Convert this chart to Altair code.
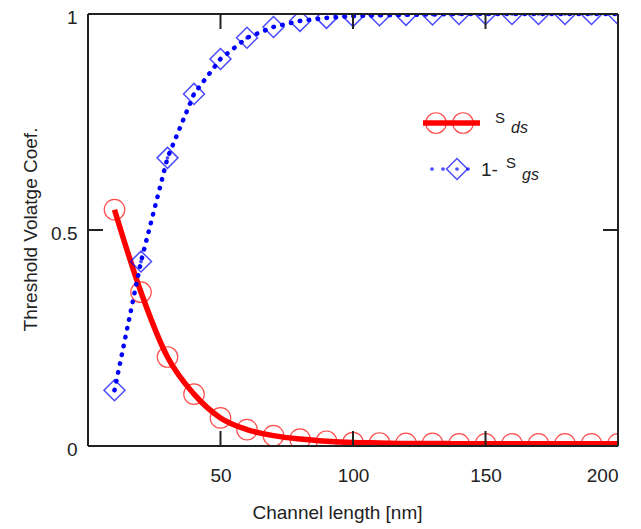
import altair as alt
import pandas as pd

# ---- data ----
channel_length = [10, 20, 30, 40, 50, 60, 70, 80, 90, 100,
                  110, 120, 130, 140, 150, 160, 170, 180, 190, 200]
s_ds = [0.547, 0.356, 0.206, 0.120, 0.065, 0.038, 0.024, 0.016, 0.011, 0.008,
        0.007, 0.006, 0.006, 0.005, 0.005, 0.005, 0.005, 0.005, 0.005, 0.005]
one_minus_s_gs = [0.129, 0.427, 0.667, 0.815, 0.896, 0.945, 0.970, 0.984, 0.991, 0.995,
                  0.997, 0.998, 0.999, 1.0, 1.0, 1.0, 1.0, 1.0, 1.0, 1.0]

x_ticks = [50, 100, 150, 200]
y_ticks = [0, 0.5, 1]

W, H = 530, 432
FONT = "Liberation Sans"
INK = "#222222"

df = pd.DataFrame({"L": channel_length, "sds": s_ds, "sgs": one_minus_s_gs})

xs = alt.Scale(domain=[0, 200], nice=False)
ys = alt.Scale(domain=[0, 1], nice=False)

x_enc = alt.X("L:Q", scale=xs, title="Channel length [nm]",
              axis=alt.Axis(values=x_ticks, format="d", ticks=False, domain=False, grid=False,
                            labelPadding=20, labelFontSize=19, labelFont=FONT,
                            labelColor=INK, titleFont=FONT, titleFontSize=19,
                            titleFontWeight="normal", titleColor=INK,
                            titleX=249, titleY=66, titleBaseline="middle",
                            titleAnchor="start", titleAlign="center"))

base = alt.Chart(df)

red_line = base.mark_line(color="#ff0000", strokeWidth=5.5, interpolate="monotone", clip=True).encode(
    x=x_enc,
    y=alt.Y("sds:Q", scale=ys, title="Threshold Volatge Coef.",
            axis=alt.Axis(values=y_ticks, format="~g", ticks=False, domain=False, grid=False,
                          labelPadding=11, labelOffset=3, labelFontSize=19, labelFont=FONT,
                          labelColor=INK,
                          titleFont=FONT, titleFontSize=19, titleFontWeight="normal",
                          titleColor=INK, titleX=-58, titleY=215, titleAngle=-90,
                          titleBaseline="middle", titleAlign="center")),
)
red_pts = base.mark_point(shape="circle", size=420, color="#ff0000", filled=False,
                          strokeWidth=1.2, clip=True).encode(x="L:Q", y="sds:Q")

blue_line = base.mark_line(color="#0000ff", strokeWidth=4.5, strokeDash=[0.5, 8.5],
                           strokeCap="round", clip=True).encode(x="L:Q", y="sgs:Q")
blue_pts = base.mark_point(shape="diamond", size=440, color="#0000ff", filled=False,
                           strokeWidth=1.5, clip=True).encode(x="L:Q", y="sgs:Q")
blue_dot = base.mark_point(shape="circle", size=14, color="#0000ff", filled=True,
                           clip=True).encode(x="L:Q", y="sgs:Q")

# ---- inward tick marks on all four sides ----
xt = pd.DataFrame({"v": x_ticks})
yt = pd.DataFrame({"v": y_ticks})
tick_bottom = alt.Chart(xt).mark_rule(color=INK, strokeWidth=2).encode(
    x=alt.X("v:Q", scale=xs), y=alt.value(H), y2=alt.value(H - 15))
tick_top = alt.Chart(xt).mark_rule(color=INK, strokeWidth=2).encode(
    x=alt.X("v:Q", scale=xs), y=alt.value(0), y2=alt.value(15))
tick_left = alt.Chart(yt).mark_rule(color=INK, strokeWidth=2).encode(
    y=alt.Y("v:Q", scale=ys), x=alt.value(0), x2=alt.value(15))
tick_right = alt.Chart(yt).mark_rule(color=INK, strokeWidth=2).encode(
    y=alt.Y("v:Q", scale=ys), x=alt.value(W - 15), x2=alt.value(W))

# ---- frame ----
one = pd.DataFrame({"a": [0]})
fr = alt.Chart(one)
frame = [
    fr.mark_rule(color=INK, strokeWidth=2).encode(x=alt.value(0), x2=alt.value(W), y=alt.value(0)),
    fr.mark_rule(color=INK, strokeWidth=2).encode(x=alt.value(0), x2=alt.value(W), y=alt.value(H)),
    fr.mark_rule(color=INK, strokeWidth=2).encode(x=alt.value(0), y=alt.value(0), y2=alt.value(H)),
    fr.mark_rule(color=INK, strokeWidth=2).encode(x=alt.value(W), y=alt.value(0), y2=alt.value(H)),
]

# ---- legend (decoration) ----
lg = alt.Chart(one)
leg = [
    lg.mark_rule(color="#ff0000", strokeWidth=5.5).encode(x=alt.value(335), x2=alt.value(392), y=alt.value(109)),
    lg.mark_point(shape="circle", size=420, color="#ff0000", strokeWidth=1.2).encode(x=alt.value(348), y=alt.value(109)),
    lg.mark_point(shape="circle", size=420, color="#ff0000", strokeWidth=1.2).encode(x=alt.value(375), y=alt.value(109)),
    lg.mark_text(text="S", font=FONT, fontSize=15, color=INK, align="left", baseline="middle").encode(x=alt.value(407), y=alt.value(104)),
    lg.mark_text(text="ds", font=FONT, fontSize=16, fontStyle="italic", color=INK, align="left", baseline="middle").encode(x=alt.value(423), y=alt.value(114)),
    lg.mark_point(shape="circle", size=14, color="#0000ff", filled=True).encode(x=alt.value(344), y=alt.value(155)),
    lg.mark_point(shape="circle", size=14, color="#0000ff", filled=True).encode(x=alt.value(355), y=alt.value(155)),
    lg.mark_point(shape="circle", size=14, color="#0000ff", filled=True).encode(x=alt.value(369), y=alt.value(155)),
    lg.mark_point(shape="circle", size=14, color="#0000ff", filled=True).encode(x=alt.value(380), y=alt.value(155)),
    lg.mark_point(shape="diamond", size=440, color="#0000ff", strokeWidth=1.5).encode(x=alt.value(369), y=alt.value(155)),
    lg.mark_text(text="1-", font=FONT, fontSize=19, color=INK, align="left", baseline="middle").encode(x=alt.value(393), y=alt.value(156)),
    lg.mark_text(text="S", font=FONT, fontSize=15, color=INK, align="left", baseline="middle").encode(x=alt.value(418), y=alt.value(149)),
    lg.mark_text(text="gs", font=FONT, fontSize=16, fontStyle="italic", color=INK, align="left", baseline="middle").encode(x=alt.value(434), y=alt.value(161)),
]

chart = alt.layer(red_line, red_pts, blue_line, blue_dot, blue_pts,
                  tick_bottom, tick_top, tick_left, tick_right, *frame, *leg).properties(
    width=W, height=H,
    autosize=alt.AutoSizeParams(type="none"),
    padding={"left": 80, "top": 6, "right": 15, "bottom": 80},
).configure_view(stroke=None).configure(background="white")

chart.save("out.html", embed_options={"renderer": "svg", "actions": False})
